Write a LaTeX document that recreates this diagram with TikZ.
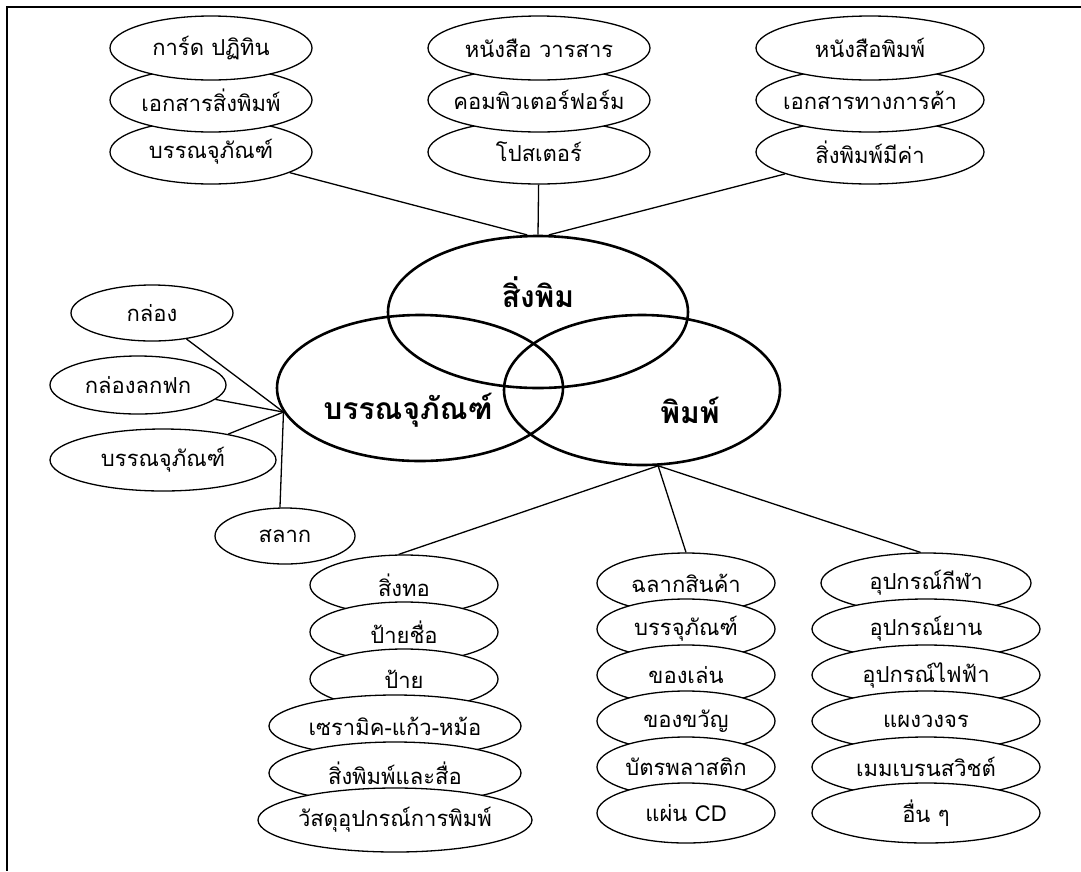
\documentclass[tikz,border=0pt]{standalone}
\usepackage{fontspec}
\setmainfont[Script=Thai]{Loma}
\usetikzlibrary{shapes.geometric,positioning}
\newcommand{\tx}[1]{\makebox[0pt]{#1}}

\begin{document}
\begin{tikzpicture}
	[x=1pt,y=-1pt,node distance=52pt,
		item/.style={ellipse,draw,fill=white,inner sep=0pt,line width=1.3pt,minimum height=64pt,font=\fontsize{22}{24}\selectfont},
		venn/.style={ellipse,draw,inner sep=0pt,line width=2.6pt},
		vlabel/.style={font=\fontsize{30}{32}\selectfont\bfseries},
		link/.style={line width=1.3pt}]

	\useasboundingbox (0,0) rectangle (1081,871);
	\draw[line width=2pt] (1081,7) -- (7,7) -- (7,871);

	% centre
	\node[venn,minimum width=300pt,minimum height=152pt,label={[vlabel,yshift=20pt]center:สิ่งพิม}] (spm) at (538,312) {};
	\node[venn,minimum width=286pt,minimum height=146pt,label={[vlabel,xshift=-12pt,yshift=-22pt]center:บรรณจุภัณฑ์}] (pk) at (420,388) {};
	\node[venn,minimum width=276pt,minimum height=150pt,label={[vlabel,xshift=48pt,yshift=-20pt]center:พิมพ์}] (pm) at (642,390) {};

	% top
	\node[item,minimum width=202pt] (t13) at (211,152) {\tx{บรรณจุภัณฑ์}};
	\node[item,minimum width=202pt] (t12) [above of=t13] {\tx{เอกสารสิ่งพิมพ์}};
	\node[item,minimum width=202pt] (t11) [above of=t12] {\tx{การ์ด ปฏิทิน}};
	\node[item,minimum width=222pt] (t23) at (539,152) {\tx{โปสเตอร์}};
	\node[item,minimum width=222pt] (t22) [above of=t23] {\tx{คอมพิวเตอร์ฟอร์ม}};
	\node[item,minimum width=222pt] (t21) [above of=t22] {\tx{หนังสือ วารสาร}};
	\node[item,minimum width=228pt] (t33) at (870,152) {\tx{สิ่งพิมพ์มีค่า}};
	\node[item,minimum width=228pt] (t32) [above of=t33] {\tx{เอกสารทางการค้า}};
	\node[item,minimum width=228pt] (t31) [above of=t32] {\tx{หนังสือพิมพ์}};

	% left
	\node[item,minimum width=162pt,minimum height=56pt] (k1) at (152,313) {\tx{กล่อง}};
	\node[item,minimum width=176pt,minimum height=58pt] (k2) at (138,385) {\tx{กล่องลกฟก}};
	\node[item,minimum width=226pt,minimum height=62pt] (k3) at (163,460) {\tx{บรรณจุภัณฑ์}};
	\node[item,minimum width=140pt,minimum height=56pt] (k4) at (285,536) {\tx{สลาก}};

	% bottom
	\begin{scope}[node distance=47pt]
	\node[item,minimum width=188pt,minimum height=60pt] (a1) at (404,585) {\tx{สิ่งทอ}};
	\node[item,minimum width=188pt,minimum height=60pt] (a2) [below of=a1] {\tx{ป้ายชื่อ}};
	\node[item,minimum width=188pt,minimum height=60pt] (a3) [below of=a2] {\tx{ป้าย}};
	\node[item,minimum width=252pt,minimum height=62pt,xshift=-9pt] (a4) [below of=a3] {\tx{เซรามิค-แก้ว-หม้อ}};
	\node[item,minimum width=252pt,minimum height=62pt] (a5) [below of=a4] {\tx{สิ่งพิมพ์และสื่อ}};
	\node[item,minimum width=274pt,minimum height=64pt] (a6) [below of=a5] {\tx{วัสดุอุปกรณ์การพิมพ์}};
	\end{scope}
	\begin{scope}[node distance=46pt]
	\node[item,minimum width=178pt,minimum height=60pt] (b1) at (686,583) {\tx{ฉลากสินค้า}};
	\node[item,minimum width=178pt,minimum height=60pt] (b2) [below of=b1] {\tx{บรรจุภัณฑ์}};
	\node[item,minimum width=178pt,minimum height=60pt] (b3) [below of=b2] {\tx{ของเล่น}};
	\node[item,minimum width=178pt,minimum height=60pt] (b4) [below of=b3] {\tx{ของขวัญ}};
	\node[item,minimum width=178pt,minimum height=60pt] (b5) [below of=b4] {\tx{บัตรพลาสติก}};
	\node[item,minimum width=178pt,minimum height=60pt] (b6) [below of=b5] {\tx{แผ่น CD}};
	\node[item,minimum width=210pt,minimum height=60pt] (c1) at (926,583) {\tx{อุปกรณ์กีฬา}};
	\node[item,minimum width=228pt,minimum height=60pt] (c2) [below of=c1] {\tx{อุปกรณ์ยาน}};
	\node[item,minimum width=228pt,minimum height=60pt] (c3) [below of=c2] {\tx{อุปกรณ์ไฟฟ้า}};
	\node[item,minimum width=228pt,minimum height=60pt] (c4) [below of=c3] {\tx{แผงวงจร}};
	\node[item,minimum width=228pt,minimum height=60pt] (c5) [below of=c4] {\tx{เมมเบรนสวิชต์}};
	\node[item,minimum width=228pt,minimum height=60pt] (c6) [below of=c5] {\tx{อื่น ๆ}};
	\end{scope}

	\draw[link] (t13) -- (spm.98);
	\draw[link] (t23) -- (spm.north);
	\draw[link] (t33) -- (spm.82);
	\draw[link] (k1) -- (pk.190);
	\draw[link] (k2) -- (pk.190);
	\draw[link] (k3) -- (pk.190);
	\draw[link] (k4.100) -- (pk.190);
	\draw[link] (pm.282) -- (a1.100);
	\draw[link] (pm.282) -- (b1.north);
	\draw[link] (pm.282) -- (c1.100);

\end{tikzpicture}
\end{document}
